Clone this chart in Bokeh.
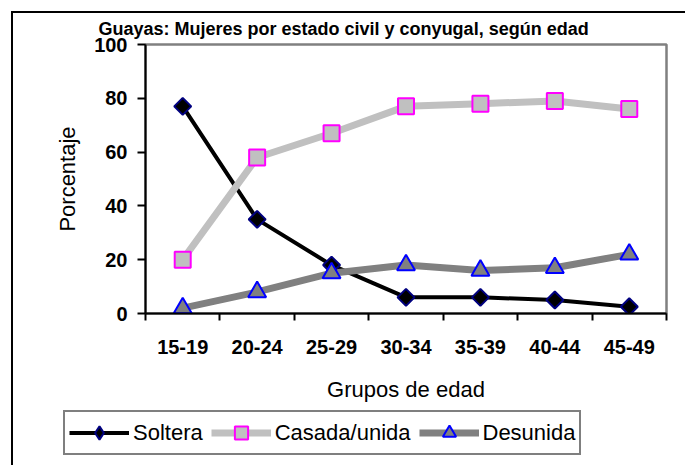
from bokeh.plotting import figure
from bokeh.models import (FixedTicker, LinearAxis, Legend, LegendItem, Range1d)
from bokeh.layouts import column
from bokeh.embed import file_html
from bokeh.resources import INLINE

categories = ["15-19", "20-24", "25-29", "30-34", "35-39", "40-44", "45-49"]
soltera = [77, 35, 18, 6, 6, 5, 2.5]
casada = [20, 58, 67, 77, 78, 79, 76]
desunida = [2, 8, 15, 18, 16, 17, 22]
y_ticks = [0, 20, 40, 60, 80, 100]
series_names = ["Soltera", "Casada/unida", "Desunida"]

title_text = "Guayas: Mujeres por estado civil y conyugal, según edad"
x_label = "Grupos de edad"
y_label = "Porcentaje"

FONT = "Liberation Sans"

xs = [i + 0.5 for i in range(len(categories))]
bounds = list(range(len(categories) + 1))

# ---------------- main chart ----------------
p = figure(width=672, height=396, output_backend="svg", toolbar_location=None,
           x_range=Range1d(0, len(categories)), y_range=Range1d(0, 100),
           x_axis_type=None, y_axis_type=None,
           min_border_left=132, min_border_right=19,
           min_border_top=31, min_border_bottom=96)
p.outline_line_color = "#808080"
p.outline_line_width = 2.5
p.background_fill_color = "white"
p.border_fill_color = "white"

p.title.text = title_text
p.title.align = "left"
p.title.offset = -47
p.title.standoff = 8
p.title.vertical_align = "top"
p.title.text_font = FONT
p.title.text_font_size = "18px"
p.title.text_font_style = "bold"
p.title.text_color = "black"

xaxis = LinearAxis(ticker=FixedTicker(ticks=xs, minor_ticks=bounds),
                   major_label_overrides={x: c for x, c in zip(xs, categories)})
xaxis.axis_line_color = "black"
xaxis.axis_line_width = 2
xaxis.major_tick_line_color = None
xaxis.major_tick_out = 7
xaxis.major_tick_in = 0
xaxis.minor_tick_line_color = "black"
xaxis.minor_tick_line_width = 2
xaxis.minor_tick_out = 7
xaxis.minor_tick_in = 0
xaxis.major_label_standoff = 19
xaxis.major_label_text_font = FONT
xaxis.major_label_text_font_size = "20px"
xaxis.major_label_text_font_style = "bold"
xaxis.major_label_text_color = "black"
xaxis.axis_label = x_label
xaxis.axis_label_text_font = FONT
xaxis.axis_label_text_font_size = "22px"
xaxis.axis_label_text_font_style = "normal"
xaxis.axis_label_text_color = "black"
xaxis.axis_label_standoff = 20
p.add_layout(xaxis, "below")

yaxis = LinearAxis(ticker=FixedTicker(ticks=y_ticks))
yaxis.axis_line_color = "black"
yaxis.axis_line_width = 2
yaxis.major_tick_line_color = "black"
yaxis.major_tick_line_width = 2
yaxis.major_tick_out = 8
yaxis.major_tick_in = 0
yaxis.minor_tick_line_color = None
yaxis.major_label_standoff = 10
yaxis.major_label_text_font = FONT
yaxis.major_label_text_font_size = "20px"
yaxis.major_label_text_font_style = "bold"
yaxis.major_label_text_color = "black"
yaxis.axis_label = y_label
yaxis.axis_label_text_font = FONT
yaxis.axis_label_text_font_size = "22px"
yaxis.axis_label_text_font_style = "normal"
yaxis.axis_label_text_color = "black"
yaxis.axis_label_standoff = 11
p.add_layout(yaxis, "left")

p.line(xs, soltera, line_color="black", line_width=4)
p.line(xs, casada, line_color="#C0C0C0", line_width=7)
p.line(xs, desunida, line_color="#808080", line_width=7)
p.scatter(xs, soltera, marker="square", angle=0.785398, size=12,
          fill_color="black", line_color="#000080", line_width=2)
p.scatter(xs, casada, marker="square", size=16,
          fill_color="#C0C0C0", line_color="#FF00FF", line_width=2)
p.scatter(xs, desunida, marker="triangle", size=18,
          fill_color="#808080", line_color="#0000FF", line_width=2)

# ---------------- legend strip (swatches use the same series, kept out of view) ----
pl = figure(width=672, height=56, output_backend="svg", toolbar_location=None,
            x_range=Range1d(0, 1), y_range=Range1d(0, 1),
            x_axis_type=None, y_axis_type=None,
            min_border_left=0, min_border_right=0,
            min_border_top=0, min_border_bottom=0)
pl.styles = {"margin-left": "-82px"}
pl.outline_line_color = None
pl.background_fill_alpha = 0
pl.border_fill_alpha = 0

sw1 = pl.line(xs, soltera, line_color="black", line_width=4)
sw1m = pl.scatter(xs, soltera, marker="diamond", fill_color="black",
                  line_color="#000080", line_width=2)
sw2 = pl.line(xs, casada, line_color="#C0C0C0", line_width=7)
sw2m = pl.scatter(xs, casada, marker="square", fill_color="#C0C0C0",
                  line_color="#FF00FF", line_width=2)
sw3 = pl.line(xs, desunida, line_color="#808080", line_width=7)
sw3m = pl.scatter(xs, desunida, marker="triangle", fill_color="#808080",
                  line_color="#0000FF", line_width=2)

legend = Legend(items=[LegendItem(label=series_names[0], renderers=[sw1, sw1m]),
                       LegendItem(label=series_names[1], renderers=[sw2, sw2m]),
                       LegendItem(label=series_names[2], renderers=[sw3, sw3m])],
                orientation="horizontal", location=(0, 10),
                border_line_color="black", border_line_width=2,
                glyph_width=60, glyph_height=33, label_height=33,
                label_standoff=4, spacing=8, padding=4, margin=0,
                label_text_font=FONT, label_text_font_size="22px",
                label_text_color="black", background_fill_color="white",
                background_fill_alpha=1)
pl.add_layout(legend, "center")

layout = column(p, pl, spacing=0,
                styles={"border-left": "2px solid black",
                        "border-top": "2px solid black",
                        "margin-left": "11px", "margin-top": "11px"})
open("out.html", "w").write(file_html(layout, INLINE))
